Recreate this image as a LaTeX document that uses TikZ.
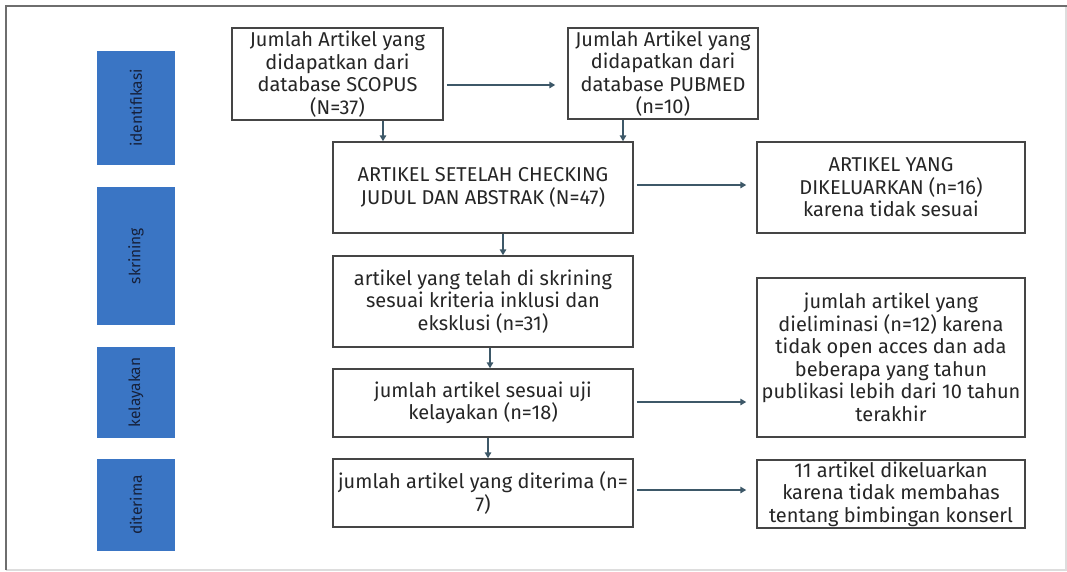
\documentclass[tikz,border=0pt]{standalone}
\usepackage{fontspec}
\setmainfont{Fira Sans}
\usetikzlibrary{arrows.meta}
\definecolor{boxline}{HTML}{454545}
\definecolor{arrcol}{HTML}{3D5868}
\definecolor{bandblue}{HTML}{3A75C4}
\definecolor{bandtext}{HTML}{16203A}
\definecolor{txt}{HTML}{262626}
\definecolor{framedark}{HTML}{6E6E6E}
\definecolor{framelight}{HTML}{DDDDDD}
\tikzset{
  flowbox/.style={draw=boxline, line width=1.5pt, inner sep=0pt, align=center,
    text=txt, font=\fontsize{20}{22.5}\selectfont},
  band/.style={fill=bandblue, inner sep=0pt, minimum width=78pt},
  bandlabel/.style={rotate=90, text=bandtext, font=\fontsize{15.5}{18}\selectfont},
  arr/.style={draw=arrcol, line width=1.9pt, -{Triangle[length=6pt,width=6.5pt]}},
}
\begin{document}
\begin{tikzpicture}[x=1pt,y=-1pt]
\useasboundingbox (0,0) rectangle (1067,571);
\fill[white] (0,0) rectangle (1067,571);
% frame
\draw[framelight, line width=1.2pt] (1066,6) -- (1066,570) -- (6,570);
\draw[framedark, line width=2pt] (6,570) -- (6,6) -- (1067,6);

% bands
\node[band, minimum height=114pt] (b1) at (136,108) {};
\node[band, minimum height=138pt] (b2) at (136,256) {};
\node[band, minimum height=91pt] (b3) at (136,392.5) {};
\node[band, minimum height=92pt] (b4) at (136,505) {};
\node[bandlabel] (l1) at (b1.center) {identifikasi};
\node[bandlabel] (l2) at (b2.center) {skrining};
\node[bandlabel] (l3) at (b3.center) {kelayakan};
\node[bandlabel] (l4) at (b4.center) {diterima};

% boxes
\node[flowbox, minimum width=211pt, minimum height=92pt] (scopus) at (337.5,74)
  {Jumlah Artikel yang\\didapatkan dari\\database SCOPUS\\(N=37)};
\node[flowbox, minimum width=190pt, minimum height=91pt] (pubmed) at (663,73.5)
  {Jumlah Artikel yang\\didapatkan dari\\database PUBMED\\(n=10)};
\node[flowbox, minimum width=300pt, minimum height=91pt] (check) at (483,187.5)
  {ARTIKEL SETELAH CHECKING\\JUDUL DAN ABSTRAK (N=47)};
\node[flowbox, minimum width=300pt, minimum height=91pt] (skr) at (483,301.5)
  {artikel yang telah di skrining\\sesuai kriteria inklusi dan\\eksklusi (n=31)};
\node[flowbox, minimum width=300pt, minimum height=68pt] (kel) at (483,403)
  {jumlah artikel sesuai uji\\kelayakan (n=18)};
\node[flowbox, minimum width=300pt, minimum height=68pt] (dit) at (483,493)
  {jumlah artikel yang diterima (n=\\7)};
\node[flowbox, minimum width=268pt, minimum height=91pt] (ex1) at (891,187.5)
  {ARTIKEL YANG\\DIKELUARKAN (n=16)\\karena tidak sesuai};
\node[flowbox, minimum width=268pt, minimum height=159pt] (ex2) at (891,357.5)
  {jumlah artikel yang\\dieliminasi (n=12) karena\\tidak open acces dan ada\\beberapa yang tahun\\publikasi lebih dari 10 tahun\\terakhir};
\node[flowbox, minimum width=268pt, minimum height=68pt] (ex3) at (891,494)
  {11 artikel dikeluarkan\\karena tidak membahas\\tentang bimbingan konserl};

% connectors
\draw[arr, shorten <=3pt, shorten >=12pt] ([yshift=-11pt]scopus.east) -- ([yshift=-11pt]scopus.east -| pubmed.west);
\draw[arr] ([xshift=45.5pt]scopus.south) -- ([xshift=45.5pt]scopus.south |- check.north);
\draw[arr] ([xshift=-40pt]pubmed.south) -- ([xshift=-40pt]pubmed.south |- check.north);
\draw[arr, shorten <=3pt, shorten >=10pt] ([yshift=2.5pt]check.east) -- ([yshift=2.5pt]check.east -| ex1.west);
\draw[arr] ([xshift=20pt]check.south) -- ([xshift=20pt]check.south |- skr.north);
\draw[arr] ([xshift=7pt]skr.south) -- ([xshift=7pt]skr.south |- kel.north);
\draw[arr] ([xshift=5pt]kel.south) -- ([xshift=5pt]kel.south |- dit.north);
\draw[arr, shorten <=3pt, shorten >=10pt] ([yshift=1pt]kel.east) -- ([yshift=1pt]kel.east -| ex2.west);
\draw[arr, shorten <=3pt, shorten >=10pt] ([yshift=3pt]dit.east) -- ([yshift=3pt]dit.east -| ex3.west);
\end{tikzpicture}
\end{document}
